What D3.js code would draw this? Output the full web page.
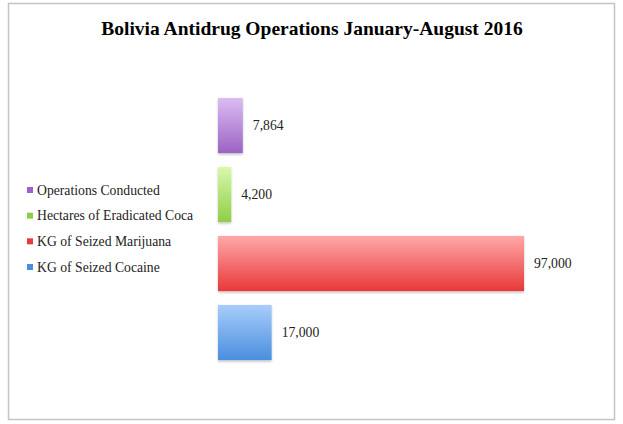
<!DOCTYPE html>
<html><head><meta charset="utf-8">
<script src="https://cdn.jsdelivr.net/npm/d3@7"></script>
<style>body{margin:0;background:#fff}svg{display:block}</style>
</head><body>
<script>
const categories = ["Operations Conducted","Hectares of Eradicated Coca","KG of Seized Marijuana","KG of Seized Cocaine"];
const values = [7864, 4200, 97000, 17000];
const valueLabels = ["7,864","4,200","97,000","17,000"];
const title = "Bolivia Antidrug Operations January-August 2016";
const colorsTop = ["#dcbdf3","#d8f9ab","#ffa8a8","#a8cdfb"];
const colorsBottom = ["#9c62c4","#90cd47","#e8393b","#4a8ede"];

const W = 623, H = 424;
const svg = d3.select("body").append("svg").attr("width", W).attr("height", H);
const defs = svg.append("defs");
colorsTop.forEach((c, i) => {
  const g = defs.append("linearGradient").attr("id", "g" + i).attr("x1", 0).attr("y1", 0).attr("x2", 0).attr("y2", 1);
  g.append("stop").attr("offset", "0%").attr("stop-color", c);
  g.append("stop").attr("offset", "100%").attr("stop-color", colorsBottom[i]);
});
const f = defs.append("filter").attr("id","sh").attr("x","-10%").attr("y","-10%").attr("width","130%").attr("height","130%");
f.append("feDropShadow").attr("dx",0).attr("dy",1.5).attr("stdDeviation",1).attr("flood-color","#000").attr("flood-opacity",0.25);

svg.append("rect").attr("x", 8.5).attr("y", 3.5).attr("width", 606).attr("height", 416)
  .attr("fill", "#fff").attr("stroke", "#c4c4c4").attr("stroke-width", 1.5);

svg.append("text").attr("x", 312).attr("y", 35).attr("text-anchor", "middle")
  .attr("font-family", "Liberation Serif, serif").attr("font-weight", "bold").attr("font-size", 19.5)
  .attr("fill", "#000").text(title);

const x = d3.scaleLinear().domain([0, 97000]).range([218, 524]);
const y = d3.scaleBand().domain(categories).range([91, 367]).paddingInner(0.2).paddingOuter(0.1);

const g = svg.append("g");
g.selectAll("rect.bar").data(categories).join("rect").attr("class","bar")
  .attr("x", x(0)).attr("y", d => y(d))
  .attr("width", (d, i) => x(values[i]) - x(0)).attr("height", y.bandwidth())
  .attr("fill", (d, i) => `url(#g${i})`).attr("filter","url(#sh)");

g.selectAll("text.val").data(categories).join("text").attr("class","val")
  .attr("x", (d, i) => x(values[i]) + 10).attr("y", d => y(d) + y.bandwidth() / 2 + 4.5)
  .attr("font-family", "Liberation Serif, serif").attr("font-size", 13.7).attr("fill", "#222")
  .text((d, i) => valueLabels[i]);

const legendY = d3.scalePoint().domain(categories).range([191, 268]);
const lg = svg.append("g");
lg.selectAll("rect").data(categories).join("rect")
  .attr("x", 27).attr("y", d => legendY(d) - 4).attr("width", 6).attr("height", 6)
  .attr("fill", (d, i) => colorsBottom[i]);
lg.selectAll("text").data(categories).join("text")
  .attr("x", 37).attr("y", d => legendY(d) + 3.5)
  .attr("font-family", "Liberation Serif, serif").attr("font-size", 13.7).attr("fill", "#222")
  .text(d => d);
</script>
</body></html>
